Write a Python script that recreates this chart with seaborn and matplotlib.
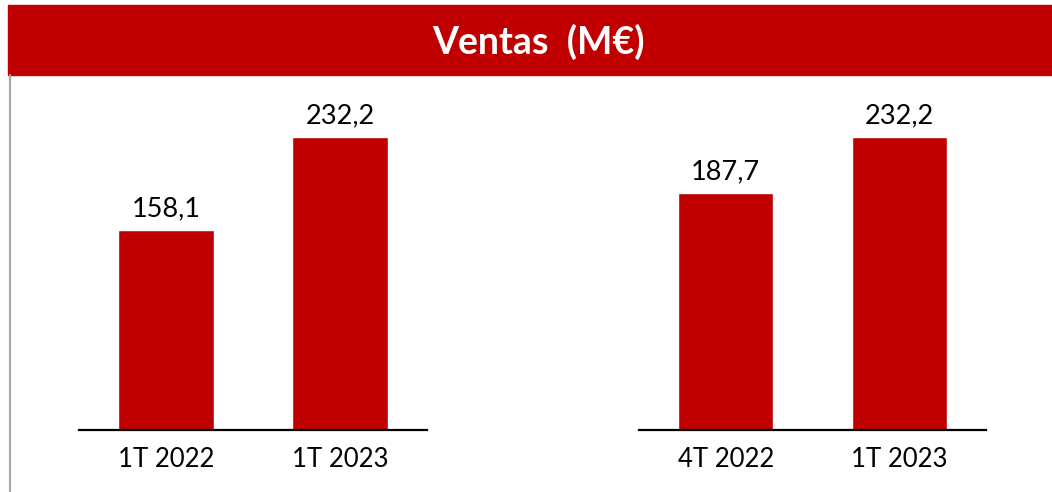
import matplotlib
matplotlib.use("Agg")
import matplotlib.pyplot as plt
from matplotlib.patches import Rectangle
from matplotlib.lines import Line2D
import seaborn as sns

# datos
periodos_anual = ["1T 2022", "1T 2023"]
ventas_anual = [158.1, 232.2]
periodos_trim = ["4T 2022", "1T 2023"]
ventas_trim = [187.7, 232.2]

ROJO = "#C00000"
W, H = 1052, 492

sns.set_style("white")
plt.rcParams["font.family"] = ["Lato", "DejaVu Sans"]

fig = plt.figure(figsize=(W / 100, H / 100), dpi=100)

# banda de titulo
fig.patches.append(Rectangle((8 / W, 1 - 75 / H), 1 - 8 / W, 70 / H,
                             transform=fig.transFigure, color=ROJO, zorder=0))
fig.text(538 / W, 1 - 42 / H, "Ventas  (M\u20ac)", color="white", fontsize=27,
         fontweight="bold", ha="center", va="center")
# linea gris a la izquierda
fig.lines.append(Line2D([10 / W, 10 / W], [0, 1 - 75 / H], transform=fig.transFigure,
                        color="#A6A6A6", lw=1.5))


def panel(x0, x1, cats, vals):
    ax = fig.add_axes([x0 / W, (H - 430) / H, (x1 - x0) / W, 355 / H])
    sns.barplot(x=cats, y=vals, ax=ax, color=ROJO, width=0.55, saturation=1)
    ax.set_xlim(-0.5, 1.5)
    ax.set_ylim(0, 281.3)
    for i, v in enumerate(vals):
        ax.text(i, v + 7, f"{v:.1f}".replace(".", ","), ha="center", va="bottom",
                fontsize=19.5, color="black")
    for s in ["top", "left", "right"]:
        ax.spines[s].set_visible(False)
    ax.spines["bottom"].set_color("black")
    ax.spines["bottom"].set_linewidth(1.6)
    ax.set_yticks([])
    ax.tick_params(axis="x", length=0, labelsize=18.5, pad=12, colors="black")
    ax.set_xlabel("")
    ax.set_ylabel("")
    ax.patch.set_alpha(0)
    return ax


panel(79, 427, periodos_anual, ventas_anual)
panel(639, 986, periodos_trim, ventas_trim)

fig.savefig("out.png", dpi=100)
